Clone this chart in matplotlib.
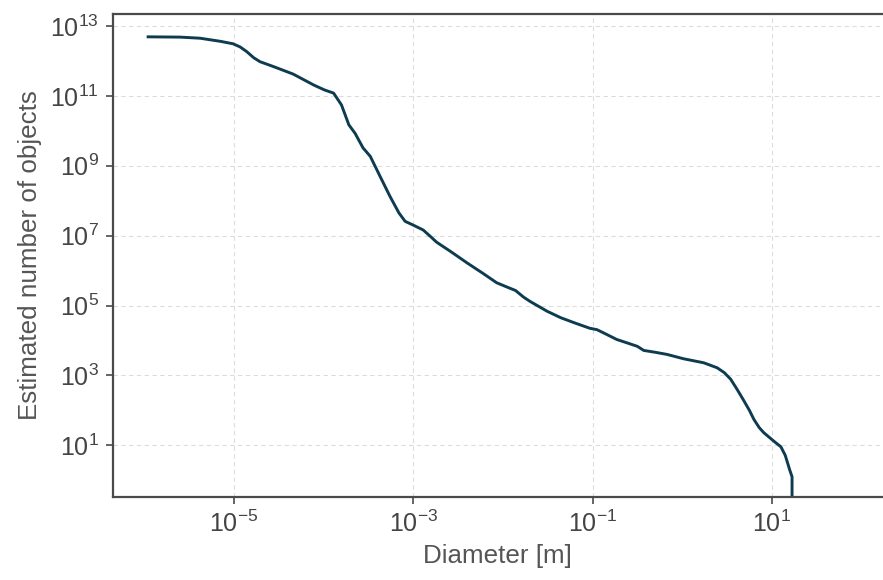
import matplotlib
matplotlib.use("Agg")
import matplotlib.pyplot as plt
from matplotlib.ticker import NullLocator

plt.rcParams['font.family'] = ['Liberation Sans', 'DejaVu Sans']
plt.rcParams['mathtext.fontset'] = 'custom'
plt.rcParams['mathtext.rm'] = 'Liberation Sans'
plt.rcParams['mathtext.it'] = 'Liberation Sans:italic'
plt.rcParams['mathtext.bf'] = 'Liberation Sans:bold'

diameter_m = [1.06e-6, 2.51e-6, 4.17e-6, 7.08e-6, 9.77e-6, 1.17e-5, 1.38e-5, 1.66e-5,
              1.95e-5, 2.75e-5, 4.57e-5, 7.76e-5, 1.02e-4, 1.29e-4, 1.58e-4, 1.91e-4,
              2.24e-4, 2.75e-4, 3.31e-4, 4.27e-4, 5.5e-4, 6.9e-4, 8.1e-4, 1.0e-3,
              1.29e-3, 1.58e-3, 1.82e-3, 2.63e-3, 3.98e-3, 6.0e-3, 8.5e-3, 1.17e-2,
              1.38e-2, 1.7e-2, 2.0e-2, 3.1e-2, 4.4e-2, 6.2e-2, 9.3e-2, 0.112,
              0.132, 0.186, 0.251, 0.316, 0.372, 0.50, 0.676, 1.035,
              1.74, 2.45, 2.95, 3.47, 4.07, 4.79, 5.62, 6.31,
              7.24, 8.13, 10.5, 12.6, 14.1, 15.8, 16.8, 16.8]
n_objects = [4.9e12, 4.8e12, 4.47e12, 3.63e12, 3.09e12, 2.51e12, 1.86e12, 1.23e12,
             9.5e11, 6.9e11, 4.2e11, 2.04e11, 1.48e11, 1.2e11, 5.5e10, 1.48e10,
             8.5e9, 3.24e9, 1.86e9, 4.9e8, 1.32e8, 4.5e7, 2.57e7, 2.0e7,
             1.45e7, 9.1e6, 6.5e6, 3.47e6, 1.66e6, 8.3e5, 4.5e5, 3.2e5,
             2.7e5, 1.74e5, 1.32e5, 6.9e4, 4.5e4, 3.24e4, 2.24e4, 2.04e4,
             1.66e4, 1.07e4, 8.3e3, 6.8e3, 5.2e3, 4.6e3, 4.0e3, 3.0e3,
             2.3e3, 1.66e3, 1.2e3, 7.8e2, 4.1e2, 2.04e2, 1.0e2, 55,
             32, 23, 13.2, 9.1, 5.2, 2.0, 1.26, 0]

x_ticks = [1e-5, 1e-3, 1e-1, 1e1]
y_ticks = [1e1, 1e3, 1e5, 1e7, 1e9, 1e11, 1e13]

W, H = 883, 580
fig = plt.figure(figsize=(W / 100, H / 100), dpi=100)
ax = fig.add_axes([112.5 / W, (H - 496.7) / H, (883 - 112.5) / W, (496.7 - 14) / H])

ax.plot(diameter_m, n_objects, color='#0d3b4f', linewidth=2.1,
        solid_capstyle='butt', solid_joinstyle='round')
ax.set_xscale('log')
ax.set_yscale('log', nonpositive='clip')
ax.set_xlim(10 ** -6.356, 10 ** 2.24)
ax.set_ylim(10 ** -0.47, 10 ** 13.343)

ax.set_xticks(x_ticks)
ax.set_yticks(y_ticks)
ax.xaxis.set_minor_locator(NullLocator())
ax.yaxis.set_minor_locator(NullLocator())

ax.grid(True, which='major', color='#dcdcdc', linestyle=(0, (4, 3)), linewidth=0.8)
ax.set_axisbelow(True)

for side in ['left', 'bottom', 'top']:
    ax.spines[side].set_color('#4a4a4a')
    ax.spines[side].set_linewidth(1.6)
ax.spines['right'].set_visible(False)

ax.tick_params(axis='both', which='major', direction='out', length=5, width=1.2,
               color='#4a4a4a', labelsize=18, labelcolor='#444444', pad=5)

ax.set_xlabel('Diameter [m]', fontsize=18.7, color='#555555', labelpad=5)
ax.set_ylabel('Estimated number of objects', fontsize=18.7, color='#555555', labelpad=6)

fig.savefig('out.png', dpi=100)
